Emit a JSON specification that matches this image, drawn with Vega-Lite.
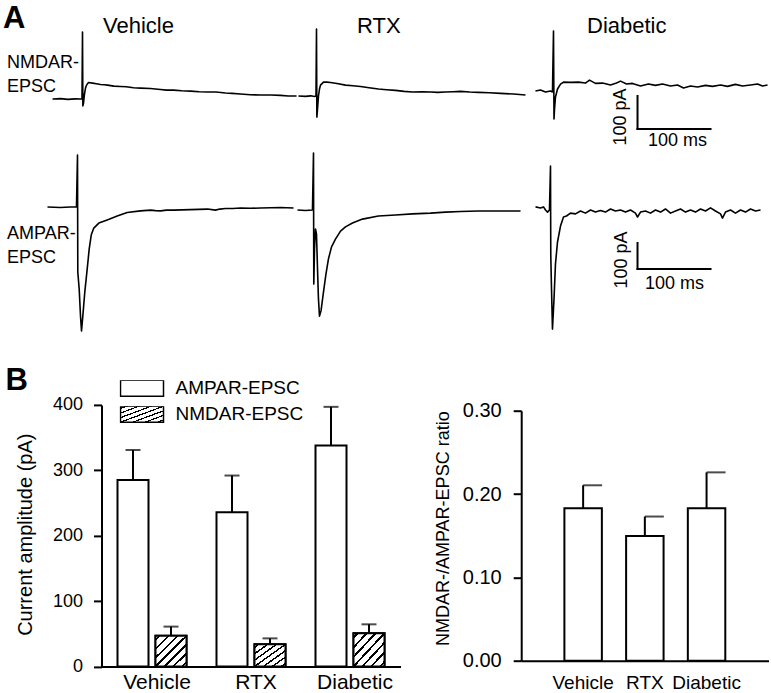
{
"$schema": "https://vega.github.io/schema/vega-lite/v6.json",
"padding": {"left": 2.5, "top": 3, "right": 0, "bottom": 0},
"title": {"text": "A", "anchor": "start", "frame": "group", "dx": -43.5, "offset": -45, "baseline": "alphabetic", "fontSize": 31, "fontWeight": "bold", "color": "black"},
"bounds": "flush",
"spacing": 65.7,
"resolve": {"scale": {"fill": "independent"}, "legend": {"fill": "independent"}},
"datasets": {
"traces": [
{"c":"Vehicle","r":"NMDAR","t":-41.1,"i":0},{"c":"Vehicle","r":"NMDAR","t":-30,"i":1},{"c":"Vehicle","r":"NMDAR","t":-20,"i":-1},{"c":"Vehicle","r":"NMDAR","t":-10,"i":0.5},{"c":"Vehicle","r":"NMDAR","t":-2.7,"i":0},{"c":"Vehicle","r":"NMDAR","t":-0.7,"i":0},{"c":"Vehicle","r":"NMDAR","t":0,"i":203},{"c":"Vehicle","r":"NMDAR","t":0.5,"i":-21},{"c":"Vehicle","r":"NMDAR","t":1.4,"i":-12},{"c":"Vehicle","r":"NMDAR","t":2.7,"i":15},{"c":"Vehicle","r":"NMDAR","t":4.1,"i":33},{"c":"Vehicle","r":"NMDAR","t":5.5,"i":42},{"c":"Vehicle","r":"NMDAR","t":8.2,"i":50},{"c":"Vehicle","r":"NMDAR","t":13.7,"i":48},{"c":"Vehicle","r":"NMDAR","t":19,"i":46},{"c":"Vehicle","r":"NMDAR","t":24.7,"i":44},{"c":"Vehicle","r":"NMDAR","t":30,"i":43},{"c":"Vehicle","r":"NMDAR","t":34.2,"i":42},{"c":"Vehicle","r":"NMDAR","t":43,"i":39},{"c":"Vehicle","r":"NMDAR","t":52.1,"i":38},{"c":"Vehicle","r":"NMDAR","t":60,"i":37},{"c":"Vehicle","r":"NMDAR","t":70,"i":34},{"c":"Vehicle","r":"NMDAR","t":79.5,"i":33},{"c":"Vehicle","r":"NMDAR","t":93,"i":32},{"c":"Vehicle","r":"NMDAR","t":106.8,"i":29},{"c":"Vehicle","r":"NMDAR","t":115,"i":27},{"c":"Vehicle","r":"NMDAR","t":124.7,"i":27},{"c":"Vehicle","r":"NMDAR","t":136,"i":25},{"c":"Vehicle","r":"NMDAR","t":147.9,"i":24},{"c":"Vehicle","r":"NMDAR","t":160,"i":22},{"c":"Vehicle","r":"NMDAR","t":171.2,"i":21},{"c":"Vehicle","r":"NMDAR","t":183,"i":21},{"c":"Vehicle","r":"NMDAR","t":195.9,"i":18},{"c":"Vehicle","r":"NMDAR","t":205,"i":17},{"c":"Vehicle","r":"NMDAR","t":216.4,"i":15},{"c":"Vehicle","r":"NMDAR","t":230,"i":13},{"c":"Vehicle","r":"NMDAR","t":243.8,"i":12},{"c":"Vehicle","r":"NMDAR","t":258,"i":12},{"c":"Vehicle","r":"NMDAR","t":271.2,"i":11},{"c":"Vehicle","r":"NMDAR","t":282,"i":9},{"c":"Vehicle","r":"NMDAR","t":293.2,"i":9},
{"c":"RTX","r":"NMDAR","t":-24.7,"i":0},{"c":"RTX","r":"NMDAR","t":-15,"i":-1},{"c":"RTX","r":"NMDAR","t":-8,"i":0.5},{"c":"RTX","r":"NMDAR","t":-2.7,"i":-1.5},{"c":"RTX","r":"NMDAR","t":-0.7,"i":0},{"c":"RTX","r":"NMDAR","t":0,"i":203},{"c":"RTX","r":"NMDAR","t":0.5,"i":-64},{"c":"RTX","r":"NMDAR","t":1.4,"i":-39},{"c":"RTX","r":"NMDAR","t":2.7,"i":0},{"c":"RTX","r":"NMDAR","t":4.1,"i":21},{"c":"RTX","r":"NMDAR","t":5.5,"i":33},{"c":"RTX","r":"NMDAR","t":9.6,"i":42},{"c":"RTX","r":"NMDAR","t":14,"i":42},{"c":"RTX","r":"NMDAR","t":19.2,"i":41},{"c":"RTX","r":"NMDAR","t":28,"i":38},{"c":"RTX","r":"NMDAR","t":39.7,"i":33},{"c":"RTX","r":"NMDAR","t":50,"i":31},{"c":"RTX","r":"NMDAR","t":60.3,"i":29},{"c":"RTX","r":"NMDAR","t":72,"i":25},{"c":"RTX","r":"NMDAR","t":84.9,"i":21},{"c":"RTX","r":"NMDAR","t":96,"i":19},{"c":"RTX","r":"NMDAR","t":108.2,"i":17},{"c":"RTX","r":"NMDAR","t":120,"i":14},{"c":"RTX","r":"NMDAR","t":131.5,"i":12},{"c":"RTX","r":"NMDAR","t":145,"i":13},{"c":"RTX","r":"NMDAR","t":156.2,"i":12},{"c":"RTX","r":"NMDAR","t":166,"i":11},{"c":"RTX","r":"NMDAR","t":176.7,"i":12},{"c":"RTX","r":"NMDAR","t":187,"i":13},{"c":"RTX","r":"NMDAR","t":197.3,"i":14},{"c":"RTX","r":"NMDAR","t":210,"i":12},{"c":"RTX","r":"NMDAR","t":221.9,"i":11},{"c":"RTX","r":"NMDAR","t":237,"i":10},{"c":"RTX","r":"NMDAR","t":252.1,"i":8},{"c":"RTX","r":"NMDAR","t":270,"i":6},{"c":"RTX","r":"NMDAR","t":286.3,"i":3},
{"c":"Diabetic","r":"NMDAR","t":-24.7,"i":0},{"c":"Diabetic","r":"NMDAR","t":-17.8,"i":3},{"c":"Diabetic","r":"NMDAR","t":-11,"i":-3},{"c":"Diabetic","r":"NMDAR","t":-4.1,"i":0},{"c":"Diabetic","r":"NMDAR","t":-1.4,"i":-3},{"c":"Diabetic","r":"NMDAR","t":0,"i":182},{"c":"Diabetic","r":"NMDAR","t":0.7,"i":-85},{"c":"Diabetic","r":"NMDAR","t":1.4,"i":-55},{"c":"Diabetic","r":"NMDAR","t":2.7,"i":-18},{"c":"Diabetic","r":"NMDAR","t":5.5,"i":6},{"c":"Diabetic","r":"NMDAR","t":9.6,"i":21},{"c":"Diabetic","r":"NMDAR","t":13.7,"i":27},{"c":"Diabetic","r":"NMDAR","t":23.3,"i":26},{"c":"Diabetic","r":"NMDAR","t":34.2,"i":27},{"c":"Diabetic","r":"NMDAR","t":43.8,"i":24},{"c":"Diabetic","r":"NMDAR","t":49.3,"i":33},{"c":"Diabetic","r":"NMDAR","t":57.5,"i":23},{"c":"Diabetic","r":"NMDAR","t":67.1,"i":24},{"c":"Diabetic","r":"NMDAR","t":78.1,"i":18},{"c":"Diabetic","r":"NMDAR","t":86.3,"i":24},{"c":"Diabetic","r":"NMDAR","t":91.8,"i":30},{"c":"Diabetic","r":"NMDAR","t":100,"i":21},{"c":"Diabetic","r":"NMDAR","t":108.2,"i":23},{"c":"Diabetic","r":"NMDAR","t":119.2,"i":15},{"c":"Diabetic","r":"NMDAR","t":130.1,"i":21},{"c":"Diabetic","r":"NMDAR","t":139.7,"i":17},{"c":"Diabetic","r":"NMDAR","t":149.3,"i":21},{"c":"Diabetic","r":"NMDAR","t":160.3,"i":15},{"c":"Diabetic","r":"NMDAR","t":169.9,"i":18},{"c":"Diabetic","r":"NMDAR","t":178.1,"i":9},{"c":"Diabetic","r":"NMDAR","t":187.7,"i":15},{"c":"Diabetic","r":"NMDAR","t":197.3,"i":12},{"c":"Diabetic","r":"NMDAR","t":208.2,"i":17},{"c":"Diabetic","r":"NMDAR","t":217.8,"i":14},{"c":"Diabetic","r":"NMDAR","t":228.8,"i":18},{"c":"Diabetic","r":"NMDAR","t":238.4,"i":14},{"c":"Diabetic","r":"NMDAR","t":249.3,"i":20},{"c":"Diabetic","r":"NMDAR","t":258.9,"i":15},{"c":"Diabetic","r":"NMDAR","t":269.9,"i":18},{"c":"Diabetic","r":"NMDAR","t":279.5,"i":21},{"c":"Diabetic","r":"NMDAR","t":286.3,"i":15},{"c":"Diabetic","r":"NMDAR","t":293.2,"i":18},
{"c":"Vehicle","r":"AMPAR","t":-41.1,"i":0},{"c":"Vehicle","r":"AMPAR","t":-23.3,"i":-2},{"c":"Vehicle","r":"AMPAR","t":-10,"i":0},{"c":"Vehicle","r":"AMPAR","t":-1.4,"i":0},{"c":"Vehicle","r":"AMPAR","t":0,"i":200},{"c":"Vehicle","r":"AMPAR","t":0.4,"i":-250},{"c":"Vehicle","r":"AMPAR","t":2.3,"i":-315},{"c":"Vehicle","r":"AMPAR","t":4.1,"i":-419},{"c":"Vehicle","r":"AMPAR","t":5.5,"i":-477},{"c":"Vehicle","r":"AMPAR","t":7.3,"i":-419},{"c":"Vehicle","r":"AMPAR","t":10,"i":-327},{"c":"Vehicle","r":"AMPAR","t":13.3,"i":-238},{"c":"Vehicle","r":"AMPAR","t":16,"i":-162},{"c":"Vehicle","r":"AMPAR","t":18.8,"i":-108},{"c":"Vehicle","r":"AMPAR","t":22.3,"i":-81},{"c":"Vehicle","r":"AMPAR","t":29.2,"i":-62},{"c":"Vehicle","r":"AMPAR","t":40.7,"i":-50},{"c":"Vehicle","r":"AMPAR","t":54.4,"i":-35},{"c":"Vehicle","r":"AMPAR","t":68.1,"i":-21},{"c":"Vehicle","r":"AMPAR","t":86.3,"i":-15},{"c":"Vehicle","r":"AMPAR","t":100,"i":-12},{"c":"Vehicle","r":"AMPAR","t":106.8,"i":-14},{"c":"Vehicle","r":"AMPAR","t":113.7,"i":-15},{"c":"Vehicle","r":"AMPAR","t":122,"i":-12},{"c":"Vehicle","r":"AMPAR","t":131.5,"i":-12},{"c":"Vehicle","r":"AMPAR","t":143,"i":-11},{"c":"Vehicle","r":"AMPAR","t":154.8,"i":-10},{"c":"Vehicle","r":"AMPAR","t":166,"i":-9},{"c":"Vehicle","r":"AMPAR","t":178.1,"i":-8},{"c":"Vehicle","r":"AMPAR","t":189,"i":-12},{"c":"Vehicle","r":"AMPAR","t":195,"i":-8},{"c":"Vehicle","r":"AMPAR","t":202.7,"i":-6},{"c":"Vehicle","r":"AMPAR","t":213,"i":-6},{"c":"Vehicle","r":"AMPAR","t":223.3,"i":-4},{"c":"Vehicle","r":"AMPAR","t":237,"i":-5},{"c":"Vehicle","r":"AMPAR","t":250.7,"i":-4},{"c":"Vehicle","r":"AMPAR","t":265,"i":-3},{"c":"Vehicle","r":"AMPAR","t":278.1,"i":-2},{"c":"Vehicle","r":"AMPAR","t":287,"i":-3},{"c":"Vehicle","r":"AMPAR","t":295.9,"i":-4},
{"c":"RTX","r":"AMPAR","t":-21.9,"i":0},{"c":"RTX","r":"AMPAR","t":-11,"i":-2},{"c":"RTX","r":"AMPAR","t":-1.4,"i":0},{"c":"RTX","r":"AMPAR","t":0,"i":219},{"c":"RTX","r":"AMPAR","t":0.4,"i":-285},{"c":"RTX","r":"AMPAR","t":1.4,"i":-150},{"c":"RTX","r":"AMPAR","t":2.7,"i":-73},{"c":"RTX","r":"AMPAR","t":4.1,"i":-92},{"c":"RTX","r":"AMPAR","t":5.5,"i":-227},{"c":"RTX","r":"AMPAR","t":6.8,"i":-342},{"c":"RTX","r":"AMPAR","t":8.2,"i":-408},{"c":"RTX","r":"AMPAR","t":10.3,"i":-388},{"c":"RTX","r":"AMPAR","t":13.7,"i":-315},{"c":"RTX","r":"AMPAR","t":17.1,"i":-246},{"c":"RTX","r":"AMPAR","t":20.5,"i":-188},{"c":"RTX","r":"AMPAR","t":24.7,"i":-142},{"c":"RTX","r":"AMPAR","t":30.1,"i":-112},{"c":"RTX","r":"AMPAR","t":37,"i":-81},{"c":"RTX","r":"AMPAR","t":43.8,"i":-65},{"c":"RTX","r":"AMPAR","t":53.4,"i":-50},{"c":"RTX","r":"AMPAR","t":67.1,"i":-35},{"c":"RTX","r":"AMPAR","t":89,"i":-23},{"c":"RTX","r":"AMPAR","t":112.3,"i":-19},{"c":"RTX","r":"AMPAR","t":135.6,"i":-15},{"c":"RTX","r":"AMPAR","t":160.3,"i":-12},{"c":"RTX","r":"AMPAR","t":180.8,"i":-8},{"c":"RTX","r":"AMPAR","t":201.4,"i":-6},{"c":"RTX","r":"AMPAR","t":226,"i":-4},{"c":"RTX","r":"AMPAR","t":256.2,"i":-4},{"c":"RTX","r":"AMPAR","t":283.6,"i":-4},
{"c":"Diabetic","r":"AMPAR","t":-20.5,"i":12},{"c":"Diabetic","r":"AMPAR","t":-13.7,"i":8},{"c":"Diabetic","r":"AMPAR","t":-9.6,"i":12},{"c":"Diabetic","r":"AMPAR","t":-6.8,"i":0},{"c":"Diabetic","r":"AMPAR","t":-4.1,"i":-8},{"c":"Diabetic","r":"AMPAR","t":-1.4,"i":0},{"c":"Diabetic","r":"AMPAR","t":0,"i":169},{"c":"Diabetic","r":"AMPAR","t":0.4,"i":-177},{"c":"Diabetic","r":"AMPAR","t":1.4,"i":-304},{"c":"Diabetic","r":"AMPAR","t":2.7,"i":-458},{"c":"Diabetic","r":"AMPAR","t":4.8,"i":-342},{"c":"Diabetic","r":"AMPAR","t":6.8,"i":-208},{"c":"Diabetic","r":"AMPAR","t":9.6,"i":-123},{"c":"Diabetic","r":"AMPAR","t":13.7,"i":-62},{"c":"Diabetic","r":"AMPAR","t":17.8,"i":-27},{"c":"Diabetic","r":"AMPAR","t":21.9,"i":-23},{"c":"Diabetic","r":"AMPAR","t":27.4,"i":-12},{"c":"Diabetic","r":"AMPAR","t":34.2,"i":-15},{"c":"Diabetic","r":"AMPAR","t":41.1,"i":-4},{"c":"Diabetic","r":"AMPAR","t":47.9,"i":-12},{"c":"Diabetic","r":"AMPAR","t":54.8,"i":0},{"c":"Diabetic","r":"AMPAR","t":61.6,"i":-8},{"c":"Diabetic","r":"AMPAR","t":68.5,"i":-2},{"c":"Diabetic","r":"AMPAR","t":75.3,"i":-8},{"c":"Diabetic","r":"AMPAR","t":82.2,"i":4},{"c":"Diabetic","r":"AMPAR","t":89,"i":-4},{"c":"Diabetic","r":"AMPAR","t":95.9,"i":0},{"c":"Diabetic","r":"AMPAR","t":102.7,"i":-8},{"c":"Diabetic","r":"AMPAR","t":109.6,"i":0},{"c":"Diabetic","r":"AMPAR","t":116.4,"i":-12},{"c":"Diabetic","r":"AMPAR","t":119.2,"i":-27},{"c":"Diabetic","r":"AMPAR","t":123.3,"i":-8},{"c":"Diabetic","r":"AMPAR","t":130.1,"i":-4},{"c":"Diabetic","r":"AMPAR","t":137,"i":-12},{"c":"Diabetic","r":"AMPAR","t":143.8,"i":0},{"c":"Diabetic","r":"AMPAR","t":150.7,"i":-8},{"c":"Diabetic","r":"AMPAR","t":157.5,"i":4},{"c":"Diabetic","r":"AMPAR","t":164.4,"i":-12},{"c":"Diabetic","r":"AMPAR","t":171.2,"i":-4},{"c":"Diabetic","r":"AMPAR","t":178.1,"i":4},{"c":"Diabetic","r":"AMPAR","t":184.9,"i":-8},{"c":"Diabetic","r":"AMPAR","t":191.8,"i":0},{"c":"Diabetic","r":"AMPAR","t":198.6,"i":-8},{"c":"Diabetic","r":"AMPAR","t":205.5,"i":4},{"c":"Diabetic","r":"AMPAR","t":212.3,"i":-4},{"c":"Diabetic","r":"AMPAR","t":219.2,"i":8},{"c":"Diabetic","r":"AMPAR","t":226,"i":-4},{"c":"Diabetic","r":"AMPAR","t":232.9,"i":-15},{"c":"Diabetic","r":"AMPAR","t":235.6,"i":-31},{"c":"Diabetic","r":"AMPAR","t":239.7,"i":-8},{"c":"Diabetic","r":"AMPAR","t":246.6,"i":0},{"c":"Diabetic","r":"AMPAR","t":253.4,"i":-12},{"c":"Diabetic","r":"AMPAR","t":260.3,"i":0},{"c":"Diabetic","r":"AMPAR","t":267.1,"i":-8},{"c":"Diabetic","r":"AMPAR","t":274,"i":4},{"c":"Diabetic","r":"AMPAR","t":280.8,"i":-4},{"c":"Diabetic","r":"AMPAR","t":287.7,"i":0}
],
"scalebars": [
{"r":"NMDAR","t":115.1,"t2":215.1,"i":-115.2,"i2":-15.2},
{"r":"AMPAR","t":119.2,"t2":219.2,"i":-227,"i2":-127}
],
"scalelabels": [
{"r":"NMDAR","kind":"v","t":91.8,"i":-78.8,"label":"100 pA"},
{"r":"NMDAR","kind":"h","t":169.9,"i":-153,"label":"100 ms"},
{"r":"AMPAR","kind":"v","t":97.9,"i":-192.3,"label":"100 pA"},
{"r":"AMPAR","kind":"h","t":169.9,"i":-282.7,"label":"100 ms"}
],
"amp": [
{"cond":"Vehicle","type":"AMPAR-EPSC","mean":285,"upper":331},
{"cond":"Vehicle","type":"NMDAR-EPSC","mean":47,"upper":61},
{"cond":"RTX","type":"AMPAR-EPSC","mean":236,"upper":292},
{"cond":"RTX","type":"NMDAR-EPSC","mean":34,"upper":43},
{"cond":"Diabetic","type":"AMPAR-EPSC","mean":338,"upper":397},
{"cond":"Diabetic","type":"NMDAR-EPSC","mean":51,"upper":64.5}
],
"ratio": [
{"cond":"Vehicle","mean":0.183,"upper":0.2105},
{"cond":"RTX","mean":0.1496,"upper":0.173},
{"cond":"Diabetic","mean":0.183,"upper":0.226}
]
},
"vconcat": [
{"width": 725, "height": 296,
 "resolve": {"scale": {"x": "independent", "y": "independent"}, "axis": {"x": "independent", "y": "independent"}},
 "layer": [
  {"data": {"name": "traces"},
   "transform": [{"filter": "datum.c === 'Vehicle' && datum.r === 'NMDAR'"}],
   "mark": {"type": "line", "color": "black", "strokeWidth": 1.6, "strokeJoin": "round"},
   "encoding": {
    "x": {"field": "t", "type": "quantitative", "scale": {"domain": [-49.32, 943.84], "nice": false, "zero": false},
      "axis": {"orient": "top", "title": "Vehicle", "domain": false, "ticks": false, "labels": false, "grid": false, "titleX": 56, "titleY": -11, "titleAlign": "left", "titleBaseline": "alphabetic", "titleAngle": 0, "titleFontSize": 22, "titleFontWeight": "normal"}},
    "y": {"field": "i", "type": "quantitative", "scale": {"domain": [-727.27, 169.70], "nice": false, "zero": false},
      "axis": {"orient": "left", "title": ["NMDAR-", "EPSC"], "domain": false, "ticks": false, "labels": false, "grid": false, "titleAngle": 0, "titleAlign": "left", "titleBaseline": "alphabetic", "titleX": -40, "titleY": 24, "titleFontSize": 18, "titleFontWeight": "normal", "titleLineHeight": 24}}
   }},
  {"data": {"name": "traces"},
   "transform": [{"filter": "datum.c === 'RTX' && datum.r === 'NMDAR'"}],
   "mark": {"type": "line", "color": "black", "strokeWidth": 1.6, "strokeJoin": "round"},
   "encoding": {
    "x": {"field": "t", "type": "quantitative", "scale": {"domain": [-369.86, 623.29], "nice": false, "zero": false},
      "axis": {"orient": "top", "title": "RTX", "domain": false, "ticks": false, "labels": false, "grid": false, "titleX": 310, "titleY": -11, "titleAlign": "left", "titleBaseline": "alphabetic", "titleAngle": 0, "titleFontSize": 22, "titleFontWeight": "normal"}},
    "y": {"field": "i", "type": "quantitative", "scale": {"domain": [-736.36, 160.61], "nice": false, "zero": false}, "axis": null}
   }},
  {"layer": [
    {"data": {"name": "traces"},
     "transform": [{"filter": "datum.c === 'Diabetic' && datum.r === 'NMDAR'"}],
     "mark": {"type": "line", "color": "black", "strokeWidth": 1.6, "strokeJoin": "round"},
     "encoding": {
      "x": {"field": "t", "type": "quantitative", "scale": {"domain": [-694.52, 298.63], "nice": false, "zero": false},
        "axis": {"orient": "top", "title": "Diabetic", "domain": false, "ticks": false, "labels": false, "grid": false, "titleX": 540, "titleY": -11, "titleAlign": "left", "titleBaseline": "alphabetic", "titleAngle": 0, "titleFontSize": 22, "titleFontWeight": "normal"}},
      "y": {"field": "i", "type": "quantitative", "scale": {"domain": [-751.52, 145.45], "nice": false, "zero": false}, "axis": null}
     }},
    {"data": {"name": "scalebars"},
     "transform": [{"filter": "datum.r === 'NMDAR'"}],
     "mark": {"type": "rule", "color": "black", "strokeWidth": 2, "strokeCap": "square"},
     "encoding": {
      "x": {"field": "t", "type": "quantitative", "scale": {"domain": [-694.52, 298.63], "nice": false, "zero": false}},
      "y": {"field": "i", "type": "quantitative", "scale": {"domain": [-751.52, 145.45], "nice": false, "zero": false}},
      "y2": {"field": "i2"}
     }},
    {"data": {"name": "scalebars"},
     "transform": [{"filter": "datum.r === 'NMDAR'"}],
     "mark": {"type": "rule", "color": "black", "strokeWidth": 2, "strokeCap": "square"},
     "encoding": {
      "x": {"field": "t", "type": "quantitative", "scale": {"domain": [-694.52, 298.63], "nice": false, "zero": false}},
      "x2": {"field": "t2"},
      "y": {"field": "i", "type": "quantitative", "scale": {"domain": [-751.52, 145.45], "nice": false, "zero": false}}
     }},
    {"data": {"name": "scalelabels"},
     "transform": [{"filter": "datum.r === 'NMDAR' && datum.kind === 'v'"}],
     "mark": {"type": "text", "angle": 270, "fontSize": 18, "align": "center", "baseline": "middle", "color": "black"},
     "encoding": {
      "x": {"field": "t", "type": "quantitative", "scale": {"domain": [-694.52, 298.63], "nice": false, "zero": false}},
      "y": {"field": "i", "type": "quantitative", "scale": {"domain": [-751.52, 145.45], "nice": false, "zero": false}},
      "text": {"field": "label"}
     }},
    {"data": {"name": "scalelabels"},
     "transform": [{"filter": "datum.r === 'NMDAR' && datum.kind === 'h'"}],
     "mark": {"type": "text", "fontSize": 18, "align": "center", "baseline": "middle", "color": "black"},
     "encoding": {
      "x": {"field": "t", "type": "quantitative", "scale": {"domain": [-694.52, 298.63], "nice": false, "zero": false}},
      "y": {"field": "i", "type": "quantitative", "scale": {"domain": [-751.52, 145.45], "nice": false, "zero": false}},
      "text": {"field": "label"}
     }}
  ]},
  {"data": {"name": "traces"},
   "transform": [{"filter": "datum.c === 'Vehicle' && datum.r === 'AMPAR'"}],
   "mark": {"type": "line", "color": "black", "strokeWidth": 1.6, "strokeJoin": "round"},
   "encoding": {
    "x": {"field": "t", "type": "quantitative", "scale": {"domain": [-42.47, 950.68], "nice": false, "zero": false}, "axis": null},
    "y": {"field": "i", "type": "quantitative", "scale": {"domain": [-507.69, 630.77], "nice": false, "zero": false},
      "axis": {"orient": "left", "title": ["AMPAR-", "EPSC"], "domain": false, "ticks": false, "labels": false, "grid": false, "titleAngle": 0, "titleAlign": "left", "titleBaseline": "alphabetic", "titleX": -40, "titleY": 195, "titleFontSize": 18, "titleFontWeight": "normal", "titleLineHeight": 24}}
   }},
  {"data": {"name": "traces"},
   "transform": [{"filter": "datum.c === 'RTX' && datum.r === 'AMPAR'"}],
   "mark": {"type": "line", "color": "black", "strokeWidth": 1.6, "strokeJoin": "round"},
   "encoding": {
    "x": {"field": "t", "type": "quantitative", "scale": {"domain": [-365.75, 627.40], "nice": false, "zero": false}, "axis": null},
    "y": {"field": "i", "type": "quantitative", "scale": {"domain": [-496.15, 642.31], "nice": false, "zero": false}, "axis": null}
   }},
  {"layer": [
    {"data": {"name": "traces"},
     "transform": [{"filter": "datum.c === 'Diabetic' && datum.r === 'AMPAR'"}],
     "mark": {"type": "line", "color": "black", "strokeWidth": 1.6, "strokeJoin": "round"},
     "encoding": {
      "x": {"field": "t", "type": "quantitative", "scale": {"domain": [-690.41, 302.74], "nice": false, "zero": false}, "axis": null},
      "y": {"field": "i", "type": "quantitative", "scale": {"domain": [-496.15, 642.31], "nice": false, "zero": false}, "axis": null}
     }},
    {"data": {"name": "scalebars"},
     "transform": [{"filter": "datum.r === 'AMPAR'"}],
     "mark": {"type": "rule", "color": "black", "strokeWidth": 2, "strokeCap": "square"},
     "encoding": {
      "x": {"field": "t", "type": "quantitative", "scale": {"domain": [-690.41, 302.74], "nice": false, "zero": false}},
      "y": {"field": "i", "type": "quantitative", "scale": {"domain": [-496.15, 642.31], "nice": false, "zero": false}},
      "y2": {"field": "i2"}
     }},
    {"data": {"name": "scalebars"},
     "transform": [{"filter": "datum.r === 'AMPAR'"}],
     "mark": {"type": "rule", "color": "black", "strokeWidth": 2, "strokeCap": "square"},
     "encoding": {
      "x": {"field": "t", "type": "quantitative", "scale": {"domain": [-690.41, 302.74], "nice": false, "zero": false}},
      "x2": {"field": "t2"},
      "y": {"field": "i", "type": "quantitative", "scale": {"domain": [-496.15, 642.31], "nice": false, "zero": false}}
     }},
    {"data": {"name": "scalelabels"},
     "transform": [{"filter": "datum.r === 'AMPAR' && datum.kind === 'v'"}],
     "mark": {"type": "text", "angle": 270, "fontSize": 18, "align": "center", "baseline": "middle", "color": "black"},
     "encoding": {
      "x": {"field": "t", "type": "quantitative", "scale": {"domain": [-690.41, 302.74], "nice": false, "zero": false}},
      "y": {"field": "i", "type": "quantitative", "scale": {"domain": [-496.15, 642.31], "nice": false, "zero": false}},
      "text": {"field": "label"}
     }},
    {"data": {"name": "scalelabels"},
     "transform": [{"filter": "datum.r === 'AMPAR' && datum.kind === 'h'"}],
     "mark": {"type": "text", "fontSize": 18, "align": "center", "baseline": "middle", "color": "black"},
     "encoding": {
      "x": {"field": "t", "type": "quantitative", "scale": {"domain": [-690.41, 302.74], "nice": false, "zero": false}},
      "y": {"field": "i", "type": "quantitative", "scale": {"domain": [-496.15, 642.31], "nice": false, "zero": false}},
      "text": {"field": "label"}
     }}
  ]}
 ]},
{"hconcat": [
 {"width": 354, "height": 261.6,
  "title": {"text": "B", "anchor": "start", "frame": "group", "dx": -41, "offset": -40.3, "baseline": "alphabetic", "fontSize": 31, "fontWeight": "bold"},
  "data": {"name": "amp"},
  "encoding": {
   "x": {"field": "cond", "type": "nominal", "sort": ["Vehicle", "RTX", "Diabetic"],
     "scale": {"range": [55, 354], "paddingInner": 0.303, "paddingOuter": 0.1616},
     "axis": {"title": null, "ticks": false, "tickSize": 0, "domainWidth": 2, "domainColor": "black", "labelFontSize": 21, "labelPadding": 4.5, "labelAngle": 0, "labelOffset": 5}},
   "xOffset": {"field": "type", "type": "nominal", "sort": ["AMPAR-EPSC", "NMDAR-EPSC"], "scale": {"paddingInner": 0.184, "paddingOuter": 0}}
  },
  "layer": [
   {"mark": {"type": "bar", "stroke": "black", "strokeWidth": 2},
    "encoding": {
     "y": {"field": "mean", "type": "quantitative", "stack": null, "scale": {"domain": [0, 400], "nice": false},
       "axis": {"offset": -55, "values": [0, 100, 200, 300, 400], "tickSize": 8, "tickWidth": 2, "domainWidth": 2, "labelFontSize": 18, "labelPadding": 11, "labelFlush": false, "labelOverlap": false, "title": "Current amplitude (pA)", "titleFontSize": 20, "titleFontWeight": "normal", "titleX": -70, "titleY": 129.3, "titleBaseline": "alphabetic", "titleAngle": 270, "titleAlign": "center"}},
     "fill": {"field": "type", "type": "nominal", "scale": {"domain": ["AMPAR-EPSC", "NMDAR-EPSC"], "range": ["white", "url(#hatch)"]},
       "legend": {"orient": "none", "legendX": 73, "legendY": -24.7, "title": null, "direction": "vertical",
         "symbolType": "M-1,-0.372H1V0.372H-1Z", "symbolSize": 1849, "symbolStrokeColor": "black", "symbolStrokeWidth": 1.5, "symbolOpacity": 1,
         "labelFontSize": 19, "labelOffset": 11, "labelColor": "black", "rowPadding": 7, "clipHeight": 16, "padding": 0,
         "encode": {"symbols": {"update": {
           "fill": {"signal": "datum.value === 'NMDAR-EPSC' ? {gradient: 'linear', id: 'hatchL', x1: 0, y1: 0, x2: 1.2056, y2: 0.4485, stops: [{offset: 0, color: 'white'}, {offset: 0.0514, color: 'white'}, {offset: 0.0514, color: 'black'}, {offset: 0.0914, color: 'black'}, {offset: 0.0914, color: 'white'}, {offset: 0.1943, color: 'white'}, {offset: 0.1943, color: 'black'}, {offset: 0.2343, color: 'black'}, {offset: 0.2343, color: 'white'}, {offset: 0.3371, color: 'white'}, {offset: 0.3371, color: 'black'}, {offset: 0.3771, color: 'black'}, {offset: 0.3771, color: 'white'}, {offset: 0.48, color: 'white'}, {offset: 0.48, color: 'black'}, {offset: 0.52, color: 'black'}, {offset: 0.52, color: 'white'}, {offset: 0.6229, color: 'white'}, {offset: 0.6229, color: 'black'}, {offset: 0.6629, color: 'black'}, {offset: 0.6629, color: 'white'}, {offset: 0.7657, color: 'white'}, {offset: 0.7657, color: 'black'}, {offset: 0.8057, color: 'black'}, {offset: 0.8057, color: 'white'}, {offset: 0.9086, color: 'white'}, {offset: 0.9086, color: 'black'}, {offset: 0.9486, color: 'black'}, {offset: 0.9486, color: 'white'}, {offset: 1, color: 'white'}]} : 'white'"},
           "stroke": {"value": "black"},
           "strokeWidth": {"value": 1.5},
           "fillOpacity": {"value": 1}
         }}}}}
    }},
   {"transform": [{"filter": "datum.type === 'NMDAR-EPSC'"}],
    "mark": {"type": "bar", "stroke": "black", "strokeWidth": 2,
      "fill": {"gradient": "linear", "id": "hatch", "x1": 0, "y1": 0, "x2": 1, "y2": 1, "stops": [{"offset":0,"color":"white"},{"offset":0.0514,"color":"white"},{"offset":0.0514,"color":"black"},{"offset":0.0914,"color":"black"},{"offset":0.0914,"color":"white"},{"offset":0.1943,"color":"white"},{"offset":0.1943,"color":"black"},{"offset":0.2343,"color":"black"},{"offset":0.2343,"color":"white"},{"offset":0.3371,"color":"white"},{"offset":0.3371,"color":"black"},{"offset":0.3771,"color":"black"},{"offset":0.3771,"color":"white"},{"offset":0.48,"color":"white"},{"offset":0.48,"color":"black"},{"offset":0.52,"color":"black"},{"offset":0.52,"color":"white"},{"offset":0.6229,"color":"white"},{"offset":0.6229,"color":"black"},{"offset":0.6629,"color":"black"},{"offset":0.6629,"color":"white"},{"offset":0.7657,"color":"white"},{"offset":0.7657,"color":"black"},{"offset":0.8057,"color":"black"},{"offset":0.8057,"color":"white"},{"offset":0.9086,"color":"white"},{"offset":0.9086,"color":"black"},{"offset":0.9486,"color":"black"},{"offset":0.9486,"color":"white"},{"offset":1,"color":"white"}]}},
    "encoding": {"y": {"field": "mean", "type": "quantitative", "stack": null}}},
   {"mark": {"type": "rule", "color": "black", "strokeWidth": 2},
    "encoding": {"y": {"field": "mean", "type": "quantitative"}, "y2": {"field": "upper"}}},
   {"mark": {"type": "tick", "color": "black", "size": 15, "thickness": 2},
    "encoding": {"y": {"field": "upper", "type": "quantitative"}}}
  ]},
 {"width": 247.3, "height": 250,
  "data": {"name": "ratio"},
  "encoding": {
   "x": {"field": "cond", "type": "nominal", "sort": ["Vehicle", "RTX", "Diabetic"],
     "scale": {"paddingInner": 0.393, "paddingOuter": 0.70},
     "axis": {"title": null, "ticks": false, "tickSize": 0, "domainWidth": 2, "domainColor": "black", "labelFontSize": 19, "labelPadding": 13, "labelAngle": 0}}
  },
  "layer": [
   {"mark": {"type": "bar", "fill": "white", "stroke": "black", "strokeWidth": 2},
    "encoding": {"y": {"field": "mean", "type": "quantitative", "scale": {"domain": [0, 0.3], "nice": false},
      "axis": {"values": [0, 0.1, 0.2, 0.3], "format": ".2f", "tickSize": 8, "tickWidth": 2, "domainWidth": 2, "labelFontSize": 20, "labelPadding": 12, "labelFlush": false, "labelOverlap": false, "title": "NMDAR-/AMPAR-EPSC ratio", "titleFontSize": 18, "titleFontWeight": "normal", "titleX": -72.7, "titleY": 117.5, "titleBaseline": "alphabetic", "titleAngle": 270, "titleAlign": "center"}}}},
   {"mark": {"type": "rule", "color": "black", "strokeWidth": 2},
    "encoding": {"y": {"field": "mean", "type": "quantitative"}, "y2": {"field": "upper"}}},
   {"mark": {"type": "tick", "color": "black", "size": 19, "thickness": 2, "xOffset": 9.5},
    "encoding": {"y": {"field": "upper", "type": "quantitative"}}}
  ]}
], "spacing": 120.7, "bounds": "flush", "center": true,
 "resolve": {"scale": {"fill": "independent"}, "legend": {"fill": "independent"}}}
],
"config": {
 "font": "Liberation Sans",
 "view": {"stroke": null},
 "axis": {"labelColor": "black", "titleColor": "black", "domainColor": "black", "tickColor": "black", "grid": false, "labelFont": "Liberation Sans", "titleFont": "Liberation Sans"},
 "legend": {"labelFont": "Liberation Sans", "labelColor": "black"},
 "title": {"font": "Liberation Sans", "color": "black"},
 "text": {"font": "Liberation Sans", "color": "black"}
}
}
